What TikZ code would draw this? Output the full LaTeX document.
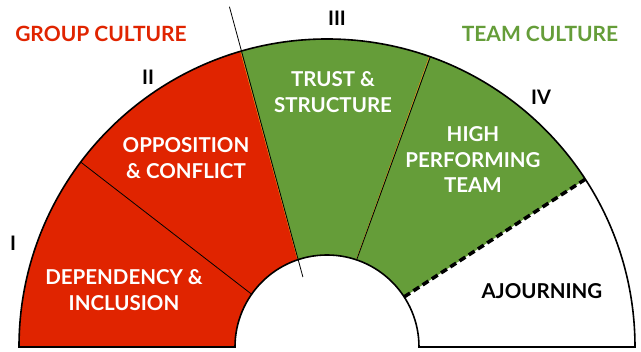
\documentclass[tikz,border=0pt]{standalone}
\usepackage{fontspec}
\setmainfont{Lato}
\definecolor{grpred}{HTML}{E02400}
\definecolor{teamgreen}{HTML}{659D39}
% #2,#3: inner angles, #4,#5: outer angles
\newcommand{\ringpart}[5]{\fill[#1] (#2:92pt) arc[start angle=#2,end angle=#3,radius=92pt]
  -- (#5:308pt) arc[start angle=#5,end angle=#4,radius=308pt] -- cycle;}

\begin{document}
\begin{tikzpicture}[
    lbl/.style={font=\fontsize{20.5}{25.5}\selectfont\bfseries,align=center,text=white},
    num/.style={font=\fontsize{20}{22}\selectfont\bfseries},
    head/.style={font=\fontsize{21}{24}\selectfont\bfseries}]
    \useasboundingbox (-327pt,-5pt) rectangle (314pt,347pt);
    \ringpart{grpred}{145}{180}{143.1}{180}
    \ringpart{grpred}{108.6}{145}{106.3}{143.1}
    \ringpart{teamgreen}{71.4}{108.6}{70.6}{106.3}
    \ringpart{teamgreen}{33}{71.4}{33}{70.6}
    \draw[orange,thin] (71.4:92pt) arc[start angle=71.4,end angle=108.6,radius=92pt]
        -- (106.3:308pt) arc[start angle=106.3,end angle=70.6,radius=308pt] -- cycle;
    \draw[line width=1.6pt] (0:92pt) arc[start angle=0,end angle=180,radius=92pt]
        -- (180:308pt) arc[start angle=180,end angle=0,radius=308pt] -- cycle;
    \draw[line width=0.8pt] (145:92pt) -- (143.1:308pt);
    \draw[line width=0.8pt] (106:354pt) -- (109:74pt);
    \draw[line width=0.8pt] (71.2:93pt) -- (70.4:308pt);
    \draw[line width=3.5pt,dash pattern=on 7pt off 4pt] (33:92pt) -- (33:308pt);
    \node[head,text=grpred] (grp) at (-226pt,313pt) {GROUP CULTURE};
    \node[head,text=teamgreen] (team) at (213pt,313pt) {TEAM CULTURE};
    \node[num] (n1) at (-314pt,104pt) {I};
    \node[num] (n2) at (-179pt,270pt) {II};
    \node[num] (n3) at (10pt,329pt) {III};
    \node[num] (n4) at (214pt,250pt) {IV};
    \node[lbl] (dep) at (-203pt,57pt) {DEPENDENCY \&\\INCLUSION};
    \node[lbl] (opp) at (-141pt,189pt) {OPPOSITION\\\& CONFLICT};
    \node[lbl] (trust) at (6pt,255pt) {TRUST \&\\STRUCTURE};
    \node[lbl] (high) at (146pt,187pt) {HIGH\\PERFORMING\\TEAM};
    \node[lbl,text=black] (adj) at (215pt,56pt) {AJOURNING};
\end{tikzpicture}
\end{document}
